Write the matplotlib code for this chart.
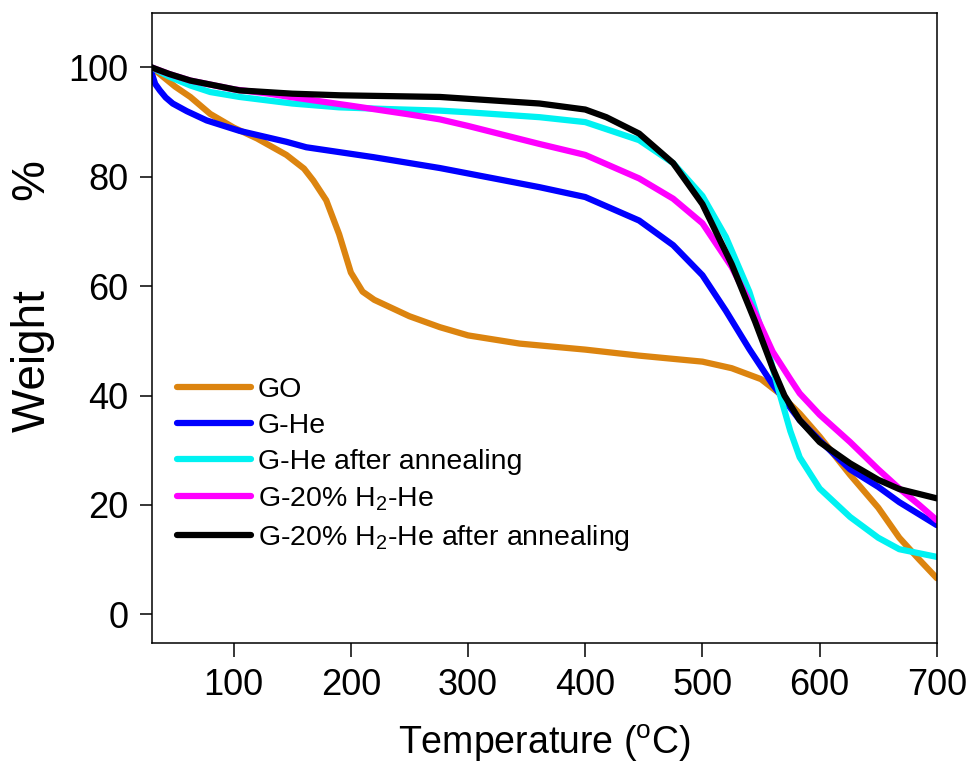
import numpy as np
import matplotlib
matplotlib.use("Agg")
import matplotlib.pyplot as plt

plt.rcParams['font.family'] = ['Liberation Sans', 'DejaVu Sans']
plt.rcParams['mathtext.fontset'] = 'custom'
plt.rcParams['mathtext.rm'] = 'Liberation Sans'
plt.rcParams['mathtext.it'] = 'Liberation Sans:italic'

# data (temperature in C, weight %)
go_t = [30, 50, 63, 80, 100, 120, 145, 160, 168, 179, 190, 200, 210, 220, 250, 276, 300, 344,
        400, 429, 446, 500, 525, 550, 565, 583, 600, 626, 650, 668, 685, 700]
go_w = [100, 96.5, 94.6, 91.5, 89, 87, 84, 81.5, 79.3, 75.7, 69.5, 62.5, 59, 57.5, 54.5, 52.5, 51, 49.5,
        48.4, 47.7, 47.3, 46.2, 45, 43, 40.5, 36.7, 32.5, 25.5, 19.5, 14, 10, 6.6]

ghe_t = [30, 33, 37, 42, 48, 60, 77, 105, 145, 162, 219, 276, 361, 400, 446, 475, 500, 520,
         540, 560, 583, 600, 626, 650, 668, 700]
ghe_w = [99, 97, 95.8, 94.5, 93.4, 92, 90.3, 88.4, 86.4, 85.4, 83.6, 81.6, 78.1, 76.3, 72, 67.5, 62, 55.5,
         48.5, 42, 35.5, 31.8, 26.5, 23.3, 20.5, 16.3]

gha_t = [30, 45, 63, 80, 105, 150, 190, 230, 276, 300, 361, 400, 446, 475, 500, 520, 540, 555,
         565, 575, 583, 600, 626, 650, 668, 700]
gha_w = [100, 98.3, 96.7, 95.5, 94.6, 93.4, 92.7, 92.4, 92.1, 91.8, 90.9, 90, 86.7, 82.5, 76.5, 69, 59, 49,
         41, 33.5, 28.7, 23, 17.8, 14, 11.9, 10.5]

gh2_t = [30, 45, 63, 100, 130, 148, 200, 250, 276, 300, 361, 400, 446, 475, 500, 525, 545, 560,
         575, 583, 600, 626, 650, 668, 685, 700]
gh2_w = [100, 98.8, 97.6, 96, 95.2, 94.6, 93, 91.4, 90.5, 89.3, 86, 84, 79.7, 76, 71.5, 63.5, 55, 48,
         43, 40.4, 36.5, 31.5, 26.5, 23, 20, 17.2]

gh2a_t = [30, 45, 63, 105, 150, 191, 276, 361, 400, 418, 446, 475, 500, 525, 545, 560, 570, 583,
          600, 626, 650, 668, 700]
gh2a_w = [100, 98.8, 97.6, 95.8, 95.2, 94.9, 94.6, 93.4, 92.3, 90.9, 87.9, 82.5, 75, 64, 53.5, 45, 40, 35.5,
          31.5, 27.6, 24.6, 22.9, 21.2]

labels = ['GO', 'G-He', 'G-He after annealing', r'G-20% H$_2$-He', r'G-20% H$_2$-He after annealing']
colors = ['#DC840F', '#0000FF', '#00F2F2', '#FF00FF', '#000000']

fig = plt.figure(figsize=(9.72, 7.67), dpi=100)
ax = fig.add_axes([0.156, 0.1613, 0.8078, 0.8221])

series = [(go_t, go_w), (ghe_t, ghe_w), (gha_t, gha_w), (gh2_t, gh2_w), (gh2a_t, gh2a_w)]
for (t, w), lab, c in zip(series, labels, colors):
    ax.plot(t, w, color=c, lw=4.5, label=lab, solid_capstyle='round', solid_joinstyle='round')

ax.set_xlim(30, 700)
ax.set_ylim(-5.3, 110)
ax.set_xticks([100, 200, 300, 400, 500, 600, 700])
ax.set_yticks([0, 20, 40, 60, 80, 100])
ax.tick_params(axis='x', direction='out', length=10, width=1.1, pad=8, labelsize=26)
ax.tick_params(axis='y', direction='out', length=8.5, width=1.1, pad=8, labelsize=26)
for s in ax.spines.values():
    s.set_linewidth(1.1)

ax.set_xlabel(r'Temperature ($^{\mathrm{o}}$C)', fontsize=27, labelpad=14)
ax.set_ylabel('Weight       %', fontsize=33)
ax.yaxis.set_label_coords(-0.123, 0.55)

ax.legend(loc='upper left', bbox_to_anchor=(0.032, 0.423), frameon=False, fontsize=20.5,
          handlelength=2.6, handletextpad=0.25, labelspacing=0.36, borderpad=0, borderaxespad=0)

fig.savefig('out.png', dpi=100)
